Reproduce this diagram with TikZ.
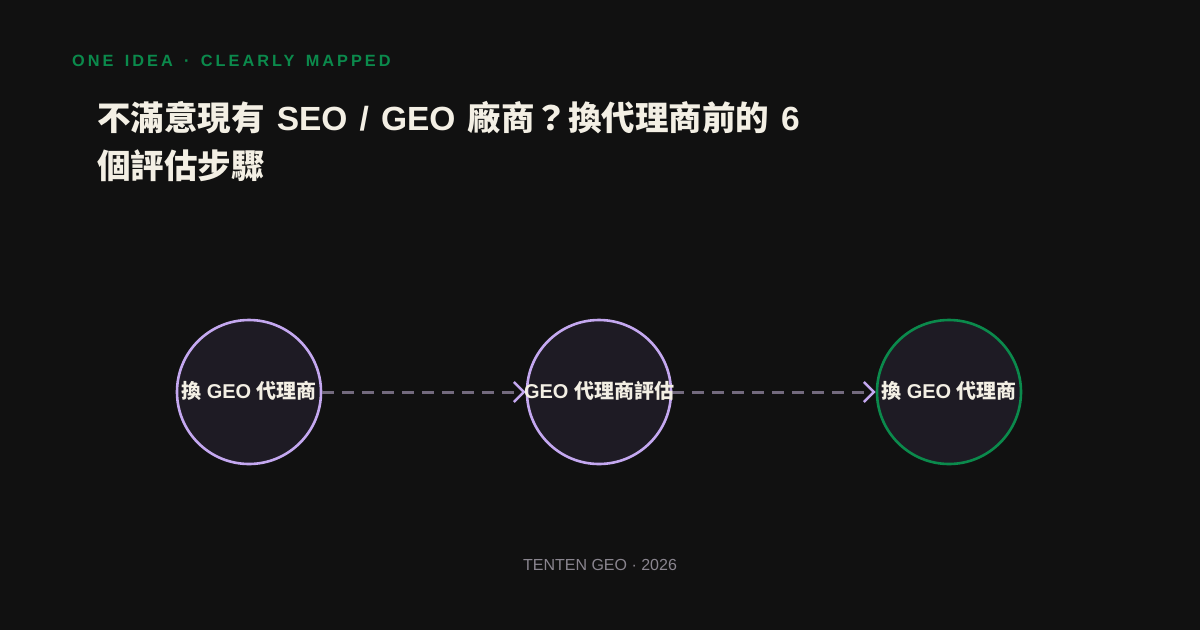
\documentclass[tikz,border=0pt]{standalone}
\usepackage{fontspec}
\setmainfont{Liberation Sans}
\newfontfamily\cjk{Noto Sans CJK TC}
\newfontfamily\titlelatin[WordSpace=1.3]{Liberation Sans}
\newfontfamily\spacedfont[LetterSpace=18.5,WordSpace=1.5]{Liberation Sans}
\usetikzlibrary{arrows.meta}
\definecolor{bgc}{HTML}{111111}
\definecolor{cream}{HTML}{F3EFE4}
\definecolor{lav}{HTML}{C4A8F0}
\definecolor{grn}{HTML}{0B8A4C}
\definecolor{nodefill}{HTML}{1E1B24}
\definecolor{dashc}{HTML}{736A7E}
\definecolor{footc}{HTML}{8A858F}
\tikzset{
  stepcircle/.style={circle, minimum size=144pt, inner sep=0pt, fill=nodefill, draw=lav, line width=2.6pt},
  lasttcircle/.style={stepcircle, draw=grn},
  steplabel/.style={font=\bfseries\fontsize{20}{24}\selectfont, text=cream},
  titletext/.style={anchor=base west, text=cream, inner sep=0pt, font=\titlelatin\bfseries\fontsize{33.5}{40}\selectfont},
  flowarrow/.style={draw=dashc, line width=3pt, dash pattern=on 12pt off 8pt,
    -{Straight Barb[length=10pt,width=20pt,color=lav,line width=2.6pt]}},
}
\begin{document}
\begin{tikzpicture}[x=1pt,y=-1pt]
\fill[bgc] (0,0) rectangle (1200,630);
\useasboundingbox (0,0) rectangle (1200,630);

\node[anchor=base west, text=grn, inner sep=0pt, font=\spacedfont\bfseries\fontsize{16.3}{20}\selectfont] (tag) at (72,66) {ONE IDEA · CLEARLY MAPPED};

\node[titletext] (title1) at (97,130)
  {{\cjk\bfseries 不滿意現有} SEO / GEO {\cjk\bfseries 廠商？換代理商前的} 6};
\node[titletext] (title2) at (97,178)
  {{\cjk\bfseries 個評估步驟}};

\node[stepcircle] (c1) at (249,392) {};
\node[stepcircle] (c2) at (599,392) {};
\node[lasttcircle] (c3) at (949,392) {};

\draw[flowarrow] (c1.east) -- (c2.west);
\draw[flowarrow] (c2.east) -- (c3.west);

\node[steplabel] (t1) at ([yshift=1pt]c1) {{\cjk\bfseries 換} GEO {\cjk\bfseries 代理商}};
\node[steplabel] (t2) at ([yshift=1pt]c2) {GEO {\cjk\bfseries 代理商評估}};
\node[steplabel] (t3) at ([yshift=1pt]c3) {{\cjk\bfseries 換} GEO {\cjk\bfseries 代理商}};

\node[anchor=base, text=footc, inner sep=0pt, font=\fontsize{16}{19}\selectfont] (foot) at (600,570) {TENTEN GEO · 2026};
\end{tikzpicture}
\end{document}
